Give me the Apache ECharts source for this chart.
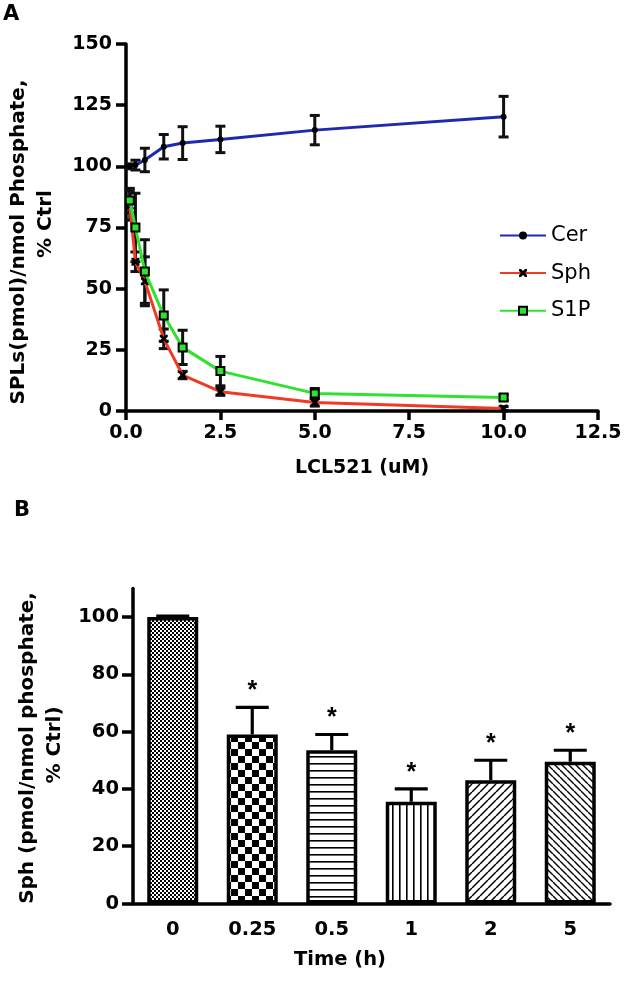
<!DOCTYPE html>
<html>
<head>
<meta charset="utf-8">
<script src="https://cdn.jsdelivr.net/npm/echarts@6/dist/echarts.min.js"></script>
<style>
html,body{margin:0;padding:0;background:#fff;}
#c{width:625px;height:982px;}
</style>
</head>
<body>
<div id="c"></div>
<script>
// ---------- Panel A data ----------
const concA = [0.1, 0.25, 0.5, 1, 1.5, 2.5, 5, 10];
const cer = [100, 100.5, 102.6, 108, 109.5, 111, 114.8, 120.3];
const cerErr = [1, 2, 4.8, 5, 6.7, 5.4, 6, 8.3];
const sph = [84, 61, 53, 29.5, 14.7, 7.9, 3.5, 1];
const sphErr = [6, 4, 10, 4, 1.5, 1.5, 1.5, 0.8];
const s1p = [86, 75, 57, 39, 26, 16.3, 7.2, 5.5];
const s1pErr = [5, 14, 13, 10.5, 7, 6, 2, 1];
const xTicksA = [0, 2.5, 5, 7.5, 10, 12.5];
const yTicksA = [0, 25, 50, 75, 100, 125, 150];

// ---------- Panel B data ----------
const timeCats = ['0', '0.25', '0.5', '1', '2', '5'];
const sphTime = [100, 59, 53.5, 35.5, 43, 49.5];
const sphTimeErr = [0.3, 9.5, 5.5, 4.5, 7, 4];
const signif = [false, true, true, true, true, true];
const yTicksB = [0, 20, 40, 60, 80, 100];

// ---------- patterns ----------
function tile(w, h, draw) {
  const c = document.createElement('canvas');
  c.width = w; c.height = h;
  const g = c.getContext('2d');
  g.fillStyle = '#fff'; g.fillRect(0, 0, w, h);
  g.fillStyle = '#000'; g.strokeStyle = '#000';
  draw(g, w, h);
  return { image: c, repeat: 'repeat' };
}
const patFine = tile(4, 4, (g) => { g.fillRect(0, 0, 2, 2); g.fillRect(2, 2, 2, 2); });
const patChecker = tile(14, 14, (g) => { g.fillRect(0, 0, 7, 7); g.fillRect(7, 7, 7, 7); });
const patHoriz = tile(8, 7.6, (g) => { g.fillRect(0, 0, 8, 1.6); });
const patVert = tile(7, 7, (g) => { g.fillRect(0, 0, 1.6, 7); });
const patDiagUp = tile(8, 8, (g, w, h) => {
  g.lineWidth = 1.5; g.beginPath();
  for (let k = -1; k <= 1; k++) { g.moveTo(k * w, h); g.lineTo(k * w + w, 0); }
  g.stroke();
});
const patDiagDown = tile(7, 7, (g, w, h) => {
  g.lineWidth = 1.4; g.beginPath();
  for (let k = -1; k <= 1; k++) { g.moveTo(k * w, 0); g.lineTo(k * w + w, h); }
  g.stroke();
});
const patterns = [patFine, patChecker, patHoriz, patVert, patDiagUp, patDiagDown];

const F = 'DejaVu Sans';
const axisLineStyle = { color: '#000', width: 3.5 };

function errA(vals, errs) {
  return concA.map((c, i) => [c, vals[i], errs[i]]);
}
function errRender(params, api) {
  const x = api.value(0), y = api.value(1), e = api.value(2);
  const t = api.coord([x, y + e]);
  const b = api.coord([x, y - e]);
  const hw = 5;
  const st = { stroke: '#111', lineWidth: 3 };
  return {
    type: 'group',
    children: [
      { type: 'line', shape: { x1: t[0], y1: t[1], x2: b[0], y2: b[1] }, style: st },
      { type: 'line', shape: { x1: t[0] - hw, y1: t[1], x2: t[0] + hw, y2: t[1] }, style: st },
      { type: 'line', shape: { x1: b[0] - hw, y1: b[1], x2: b[0] + hw, y2: b[1] }, style: st }
    ]
  };
}
function errRenderB(params, api) {
  const i = api.value(0), y = api.value(1), e = api.value(2), s = api.value(3);
  const base = api.coord([i, y]);
  const t = api.coord([i, y + e]);
  const hw = 16.5;
  const st = { stroke: '#000', lineWidth: 3.2 };
  const ch = [
    { type: 'line', shape: { x1: base[0], y1: base[1], x2: t[0], y2: t[1] }, style: st },
    { type: 'line', shape: { x1: t[0] - hw, y1: t[1], x2: t[0] + hw, y2: t[1] }, style: st }
  ];
  if (s) {
    ch.push({ type: 'text', x: t[0], y: t[1] - 16,
      style: { text: '*', font: 'bold 25px "Liberation Sans"', fill: '#000', align: 'center', verticalAlign: 'middle' } });
  }
  return { type: 'group', children: ch };
}

const xSym = 'path://M0,0 L2.5,0 L5,2.5 L7.5,0 L10,0 L10,2.5 L7.5,5 L10,7.5 L10,10 L7.5,10 L5,7.5 L2.5,10 L0,10 L0,7.5 L2.5,5 L0,2.5 Z';

const chart = echarts.init(document.getElementById('c'), null, { renderer: 'canvas' });
chart.setOption({
  backgroundColor: '#fff',
  animation: false,
  grid: [
    { left: 126, top: 44, width: 472, height: 367 },
    { left: 133, top: 588.4, width: 477, height: 315.1 }
  ],
  xAxis: [
    {
      gridIndex: 0, type: 'value', min: xTicksA[0], max: xTicksA[xTicksA.length - 1], interval: 2.5,
      axisLine: { lineStyle: axisLineStyle },
      axisTick: { length: 9, lineStyle: { color: '#000', width: 3.5 } },
      splitLine: { show: false },
      axisLabel: { margin: 13, color: '#000', fontFamily: F, fontWeight: 'bold', fontSize: 19, showMinLabel: true, showMaxLabel: true,
        formatter: v => v.toFixed(1) }
    },
    {
      gridIndex: 1, type: 'category', data: timeCats, boundaryGap: true,
      axisLine: { lineStyle: axisLineStyle },
      axisTick: { alignWithLabel: true, length: 9, lineStyle: { color: '#000', width: 3.5 } },
      axisLabel: { margin: 16, color: '#000', fontFamily: F, fontWeight: 'bold', fontSize: 19.5 }
    }
  ],
  yAxis: [
    {
      gridIndex: 0, type: 'value', min: yTicksA[0], max: yTicksA[yTicksA.length - 1], interval: 25,
      axisLine: { show: true, lineStyle: axisLineStyle },
      axisTick: { show: true, length: 10, lineStyle: { color: '#000', width: 3.5 } },
      splitLine: { show: false },
      axisLabel: { margin: 14, color: '#000', fontFamily: F, fontWeight: 'bold', fontSize: 19, showMinLabel: true, showMaxLabel: true }
    },
    {
      gridIndex: 1, type: 'value', min: 0, max: 110, interval: 20,
      axisLine: { show: true, lineStyle: axisLineStyle },
      axisTick: { show: true, length: 11, lineStyle: { color: '#000', width: 3.5 } },
      splitLine: { show: false },
      axisLabel: { margin: 14, color: '#000', fontFamily: F, fontWeight: 'bold', fontSize: 19.5, showMinLabel: true, showMaxLabel: false,
        formatter: v => (yTicksB.indexOf(v) >= 0 ? String(v) : '') }
    }
  ],
  legend: {
    data: ['Cer', 'Sph', 'S1P'],
    orient: 'vertical', left: 494, top: 220,
    itemWidth: 46, itemHeight: 10, itemGap: 16.6,
    textStyle: { fontFamily: F, fontSize: 21, color: '#000', lineHeight: 21 }
  },
  graphic: [
    { type: 'text', left: 3, top: 4, style: { text: 'A', font: 'bold 21px "DejaVu Sans"', fill: '#000' } },
    { type: 'text', left: 14, top: 500, style: { text: 'B', font: 'bold 21px "DejaVu Sans"', fill: '#000' } },
    { type: 'text', x: 19, y: 242, rotation: Math.PI / 2,
      style: { text: 'SPLs(pmol)/nmol Phosphate,', font: 'bold 20px "DejaVu Sans"', fill: '#000', align: 'center', verticalAlign: 'middle' } },
    { type: 'text', x: 46, y: 224, rotation: Math.PI / 2,
      style: { text: '% Ctrl', font: 'bold 20px "DejaVu Sans"', fill: '#000', align: 'center', verticalAlign: 'middle' } },
    { type: 'text', x: 362, y: 468,
      style: { text: 'LCL521 (uM)', font: 'bold 19px "DejaVu Sans"', fill: '#000', align: 'center', verticalAlign: 'middle' } },
    { type: 'text', x: 28, y: 748, rotation: Math.PI / 2,
      style: { text: 'Sph (pmol/nmol phosphate,', font: 'bold 20px "DejaVu Sans"', fill: '#000', align: 'center', verticalAlign: 'middle' } },
    { type: 'text', x: 55, y: 745, rotation: Math.PI / 2,
      style: { text: '% Ctrl)', font: 'bold 20px "DejaVu Sans"', fill: '#000', align: 'center', verticalAlign: 'middle' } },
    { type: 'text', x: 340, y: 960,
      style: { text: 'Time (h)', font: 'bold 19.5px "DejaVu Sans"', fill: '#000', align: 'center', verticalAlign: 'middle' } }
  ],
  series: [
    { name: 'Cer-err', type: 'custom', xAxisIndex: 0, yAxisIndex: 0, z: 3, renderItem: errRender, data: errA(cer, cerErr) },
    { name: 'Sph-err', type: 'custom', xAxisIndex: 0, yAxisIndex: 0, z: 3, renderItem: errRender, data: errA(sph, sphErr) },
    { name: 'S1P-err', type: 'custom', xAxisIndex: 0, yAxisIndex: 0, z: 3, renderItem: errRender, data: errA(s1p, s1pErr) },
    { name: 'Cer', type: 'line', xAxisIndex: 0, yAxisIndex: 0, z: 4,
      data: concA.map((c, i) => [c, cer[i]]),
      lineStyle: { color: '#1d2aae', width: 3 }, itemStyle: { color: '#000' },
      symbol: 'circle', symbolSize: 6, showSymbol: true },
    { name: 'Sph', type: 'line', xAxisIndex: 0, yAxisIndex: 0, z: 4,
      data: concA.map((c, i) => [c, sph[i]]),
      lineStyle: { color: '#f03a26', width: 3 }, itemStyle: { color: '#000' },
      symbol: xSym, symbolSize: 8, showSymbol: true },
    { name: 'S1P', type: 'line', xAxisIndex: 0, yAxisIndex: 0, z: 5,
      data: concA.map((c, i) => [c, s1p[i]]),
      lineStyle: { color: '#2ee22e', width: 3 }, itemStyle: { color: '#2ee22e', borderColor: '#000', borderWidth: 2 },
      symbol: 'rect', symbolSize: 8, showSymbol: true },
    { name: 'SphTime', type: 'bar', xAxisIndex: 1, yAxisIndex: 1, barWidth: 51, z: 2,
      data: sphTime.map((v, i) => ({ value: v, itemStyle: { color: patterns[i], borderColor: '#000', borderWidth: 3.5 } })) },
    { name: 'SphTime-err', type: 'custom', xAxisIndex: 1, yAxisIndex: 1, z: 3, renderItem: errRenderB,
      data: sphTime.map((v, i) => [i, v, sphTimeErr[i], signif[i] ? 1 : 0]) }
  ]
});
</script>
</body>
</html>
